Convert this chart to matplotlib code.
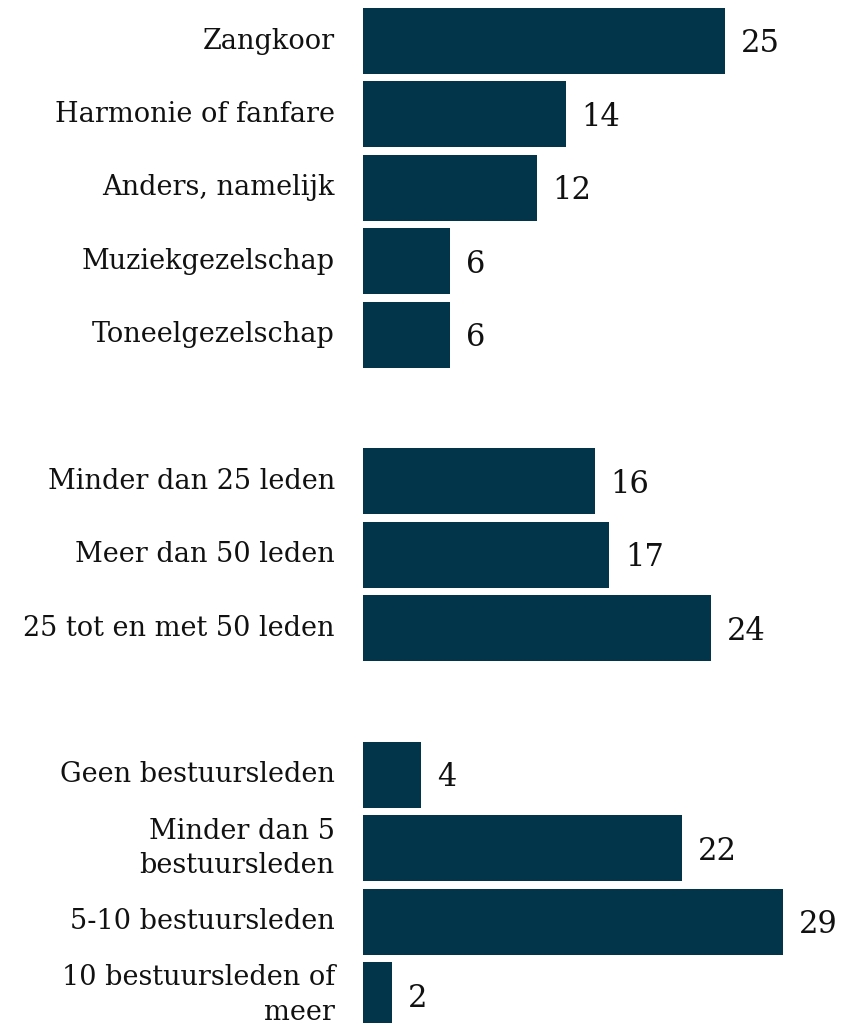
import matplotlib
matplotlib.use("Agg")
import matplotlib.pyplot as plt

# categories per group (top to bottom)
cat_type = ["Zangkoor", "Harmonie of fanfare", "Anders, namelijk",
            "Muziekgezelschap", "Toneelgezelschap"]
val_type = [25, 14, 12, 6, 6]

cat_size = ["Minder dan 25 leden", "Meer dan 50 leden", "25 tot en met 50 leden"]
val_size = [16, 17, 24]

cat_board = ["Geen bestuursleden", "Minder dan 5\nbestuursleden",
             "5-10 bestuursleden", "10 bestuursleden of\nmeer"]
val_board = [4, 22, 29, 2]

groups = [(cat_type, val_type), (cat_size, val_size), (cat_board, val_board)]

bar_color = "#02344A"
plt.rcParams['font.family'] = ['DejaVu Serif']

fig = plt.figure(figsize=(8.43, 10.23), dpi=100)
ax = fig.add_axes([363 / 843, 0, 480 / 843, 1])

pos = 0
for cats, vals in groups:
    for c, v in zip(cats, vals):
        ax.barh(pos, v, height=0.9, color=bar_color)
        ax.text(v + 1.1, pos + 0.04, str(v), va="center", ha="left",
                fontsize=22, color="#111111")
        ax.text(-1.95, pos, c, va="center", ha="right", fontsize=19.5,
                color="#111111", linespacing=1.35)
        pos += 1
    pos += 1

ax.set_xlim(0, 33.15)
ax.set_ylim(13.38, -0.559)
ax.axis("off")

fig.savefig("out.png", dpi=100)
